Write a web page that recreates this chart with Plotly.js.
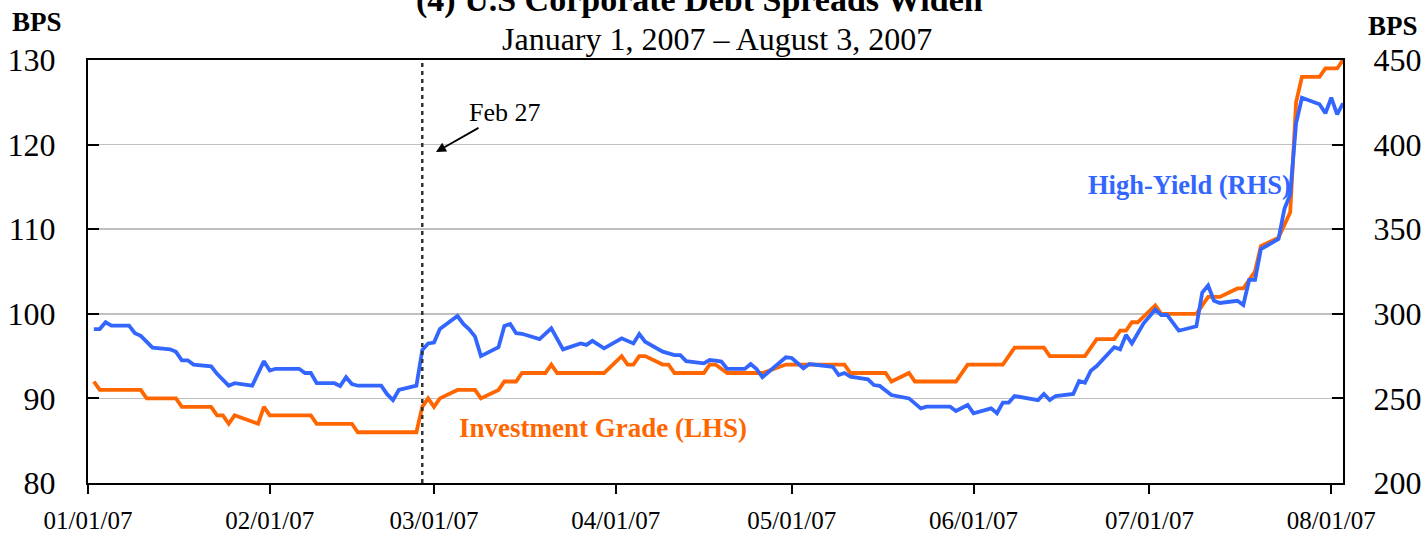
<!DOCTYPE html>
<html>
<head>
<meta charset="utf-8">
<script src="https://cdn.plot.ly/plotly-3.0.1.min.js"></script>
<style>html,body{margin:0;padding:0;background:#fff;}#chart{width:1426px;height:536px;}</style>
</head>
<body>
<div id="chart"></div>
<script>
// Investment Grade spreads (LHS, bps)
const igDates = [
 '2007-01-02','2007-01-03','2007-01-10','2007-01-11','2007-01-16','2007-01-17','2007-01-22','2007-01-23','2007-01-24','2007-01-25','2007-01-26','2007-01-30','2007-01-31',
 '2007-02-01','2007-02-08','2007-02-09','2007-02-15','2007-02-16','2007-02-26','2007-02-27','2007-02-28',
 '2007-03-01','2007-03-02','2007-03-05','2007-03-08','2007-03-09','2007-03-12','2007-03-13','2007-03-15','2007-03-16','2007-03-20','2007-03-21','2007-03-22','2007-03-30',
 '2007-04-02','2007-04-03','2007-04-04','2007-04-05','2007-04-06','2007-04-09','2007-04-10','2007-04-11','2007-04-16','2007-04-17','2007-04-18','2007-04-20','2007-04-26','2007-04-30',
 '2007-05-10','2007-05-11','2007-05-17','2007-05-18','2007-05-21','2007-05-22','2007-05-29','2007-05-31',
 '2007-06-06','2007-06-08','2007-06-13','2007-06-14','2007-06-20','2007-06-22','2007-06-25','2007-06-26','2007-06-27','2007-06-28','2007-06-29',
 '2007-07-02','2007-07-03','2007-07-09','2007-07-11','2007-07-13','2007-07-16','2007-07-17','2007-07-19','2007-07-20','2007-07-23','2007-07-24','2007-07-25','2007-07-26','2007-07-27','2007-07-30','2007-07-31',
 '2007-08-02','2007-08-03'
];
const igValues = [
 92,91,91,90,90,89,89,88,88,87,88,87,89,
 88,88,87,87,86,86,89,90,
 89,90,91,91,90,91,92,92,93,93,94,93,93,
 95,94,94,95,95,94,94,93,93,94,94,93,93,94,
 94,93,93,92,93,92,92,94,
 94,96,96,95,95,97,97,98,98,99,99,
 101,100,100,102,102,103,103,105,108,109,110.5,112,125,128,128,129,
 129,130
];

// High-Yield spreads (RHS, bps)
const hyDates = [
 '2007-01-02','2007-01-03','2007-01-04','2007-01-05','2007-01-08','2007-01-09','2007-01-10','2007-01-12','2007-01-15','2007-01-16','2007-01-17','2007-01-18','2007-01-19','2007-01-22','2007-01-23','2007-01-25','2007-01-26','2007-01-29','2007-01-31',
 '2007-02-01','2007-02-02','2007-02-06','2007-02-07','2007-02-08','2007-02-09','2007-02-12','2007-02-13','2007-02-14','2007-02-15','2007-02-16','2007-02-20','2007-02-21','2007-02-22','2007-02-23','2007-02-26','2007-02-27','2007-02-28',
 '2007-03-01','2007-03-02','2007-03-05','2007-03-06','2007-03-07','2007-03-08','2007-03-09','2007-03-12','2007-03-13','2007-03-14','2007-03-15','2007-03-16','2007-03-19','2007-03-21','2007-03-23','2007-03-26','2007-03-27','2007-03-28','2007-03-30',
 '2007-04-02','2007-04-04','2007-04-05','2007-04-06','2007-04-09','2007-04-10','2007-04-11','2007-04-12','2007-04-13','2007-04-16','2007-04-17','2007-04-18','2007-04-19','2007-04-20','2007-04-23','2007-04-24','2007-04-25','2007-04-26','2007-04-28','2007-04-30',
 '2007-05-01','2007-05-03','2007-05-04','2007-05-08','2007-05-09','2007-05-10','2007-05-11','2007-05-14','2007-05-15','2007-05-16','2007-05-18','2007-05-21','2007-05-23','2007-05-24','2007-05-28','2007-05-29','2007-05-31',
 '2007-06-01','2007-06-04','2007-06-05','2007-06-06','2007-06-07','2007-06-08','2007-06-12','2007-06-13','2007-06-14','2007-06-15','2007-06-18','2007-06-19','2007-06-20','2007-06-21','2007-06-22','2007-06-25','2007-06-26','2007-06-27','2007-06-28','2007-06-30',
 '2007-07-02','2007-07-03','2007-07-04','2007-07-06','2007-07-09','2007-07-10','2007-07-11','2007-07-12','2007-07-13','2007-07-16','2007-07-17','2007-07-18','2007-07-19','2007-07-20','2007-07-23','2007-07-24','2007-07-25','2007-07-26','2007-07-27','2007-07-30','2007-07-31',
 '2007-08-01','2007-08-02','2007-08-03'
];
const hyValues = [
 291,291,295,293,293,288.5,287,280,279,277.5,272.5,272.5,270,269,264.5,257.5,259,257.5,272,
 266.5,267.5,267.5,265,265,259,259,257.3,262.5,258.5,257.5,257.5,252.5,249,255,257.5,278.6,282.5,
 283,291,298.7,294,290.8,286.5,275,280.2,292.8,294,288.5,288.2,285,291.4,279,282.5,281.6,284,279.6,
 285.5,282.5,288,283.5,277.6,276.8,275.6,275.6,272,270.7,272.7,272.3,271.8,267.4,267.4,270.3,267.4,262.5,268.7,274.3,
 273.9,267.8,270.3,268.7,263.8,265,262.8,261.3,257.9,257.4,252,250,244.1,245.1,245.1,242.6,246.1,
 241.2,244.1,241.2,247.5,247.5,251.4,249,252.6,249,251.4,252.6,260.3,259.3,266.4,269.1,280.2,279,287.5,282.5,294.4,
 302.5,299.3,299.3,290,292.6,312.6,316.7,307.7,306.4,307.7,305.2,320,320,338.3,344.2,361.9,370.6,412.6,427.7,423.8,418.5,
 427.7,417.9,424.4
];

const eventDate = '2007-02-27';

const SERIF = 'Liberation Serif, Times New Roman, serif';
const ORANGE = '#FF6600';
const BLUE = '#3366FF';

const traces = [
  {x: igDates, y: igValues, type: 'scatter', mode: 'lines', name: 'Investment Grade (LHS)',
   line: {color: ORANGE, width: 3.8}, yaxis: 'y', hoverinfo: 'x+y'},
  {x: hyDates, y: hyValues, type: 'scatter', mode: 'lines', name: 'High-Yield (RHS)',
   line: {color: BLUE, width: 3.8}, yaxis: 'y2', hoverinfo: 'x+y'}
];

const axisCommon = {
  showline: true, linecolor: 'black', linewidth: 2,
  tickcolor: 'black', tickwidth: 2, zeroline: false
};

const NB = '\u00a0';

const layout = {
  width: 1426, height: 536,
  margin: {l: 88, r: 83, t: 60, b: 53, pad: 0},
  paper_bgcolor: 'white', plot_bgcolor: 'white',
  showlegend: false,
  font: {family: SERIF, color: 'black'},
  xaxis: Object.assign({}, axisCommon, {
    type: 'date', range: ['2007-01-01', '2007-08-03'],
    tick0: '2007-01-01', dtick: 'M1', tickformat: '%m/%d/%y',
    ticks: 'outside', ticklen: 9, mirror: true, showgrid: false,
    ticklabelstandoff: 5,
    tickfont: {family: SERIF, size: 25, color: 'black'}
  }),
  yaxis: Object.assign({}, axisCommon, {
    range: [80, 130], dtick: 10, ticks: 'inside', ticklen: 11,
    showgrid: true, gridcolor: '#c0c0c0', gridwidth: 1.5,
    ticksuffix: NB + NB + NB,
    tickfont: {family: SERIF, size: 32, color: 'black'}
  }),
  yaxis2: Object.assign({}, axisCommon, {
    overlaying: 'y', side: 'right', range: [200, 450], dtick: 50,
    ticks: 'inside', ticklen: 11, showgrid: false,
    ticklabelstandoff: 22,
    tickfont: {family: SERIF, size: 32, color: 'black'}
  }),
  shapes: [
    {type: 'line', xref: 'x', yref: 'paper', x0: eventDate, x1: eventDate, y0: 0, y1: 1,
     line: {color: '#333333', width: 2.5, dash: '4px,4px'}}
  ],
  annotations: [
    {text: '<b>(4) U.S Corporate Debt Spreads Widen</b>', xref: 'paper', yref: 'paper',
     x: 0.487, y: 1.142, xanchor: 'center', yanchor: 'middle', showarrow: false,
     font: {family: SERIF, size: 34, color: 'black'}},
    {text: 'January 1, 2007 \u2013 August 3, 2007', xref: 'paper', yref: 'paper',
     x: 0.501, y: 1.049, xanchor: 'center', yanchor: 'middle', showarrow: false,
     font: {family: SERIF, size: 32, color: 'black'}},
    {text: '<b>BPS</b>', xref: 'paper', yref: 'paper', x: -0.0406, y: 1.09,
     xanchor: 'center', yanchor: 'middle', showarrow: false,
     font: {family: SERIF, size: 27, color: 'black'}},
    {text: '<b>BPS</b>', xref: 'paper', yref: 'paper', x: 1.0398, y: 1.08,
     xanchor: 'center', yanchor: 'middle', showarrow: false,
     font: {family: SERIF, size: 27, color: 'black'}},
    {text: 'Feb 27', xref: 'paper', yref: 'paper', x: 0.3323, y: 0.877,
     xanchor: 'center', yanchor: 'middle', showarrow: false,
     font: {family: SERIF, size: 26, color: 'black'}},
    {text: '', xref: 'paper', yref: 'paper', x: 0.2773, y: 0.7825,
     showarrow: true, ax: 44, ay: -25, arrowhead: 2, arrowsize: 1.1, arrowwidth: 1.8,
     arrowcolor: 'black', standoff: 0, startstandoff: 0},
    {text: '<b>Investment Grade (LHS)</b>', xref: 'paper', yref: 'paper', x: 0.41, y: 0.130,
     xanchor: 'center', yanchor: 'middle', showarrow: false,
     font: {family: SERIF, size: 27, color: ORANGE}},
    {text: '<b>High-Yield (RHS)</b>', xref: 'paper', yref: 'paper', x: 0.8773, y: 0.7045,
     xanchor: 'center', yanchor: 'middle', showarrow: false,
     font: {family: SERIF, size: 26.5, color: BLUE}}
  ]
};

Plotly.newPlot('chart', traces, layout, {displayModeBar: false, staticPlot: true});
</script>
</body>
</html>
